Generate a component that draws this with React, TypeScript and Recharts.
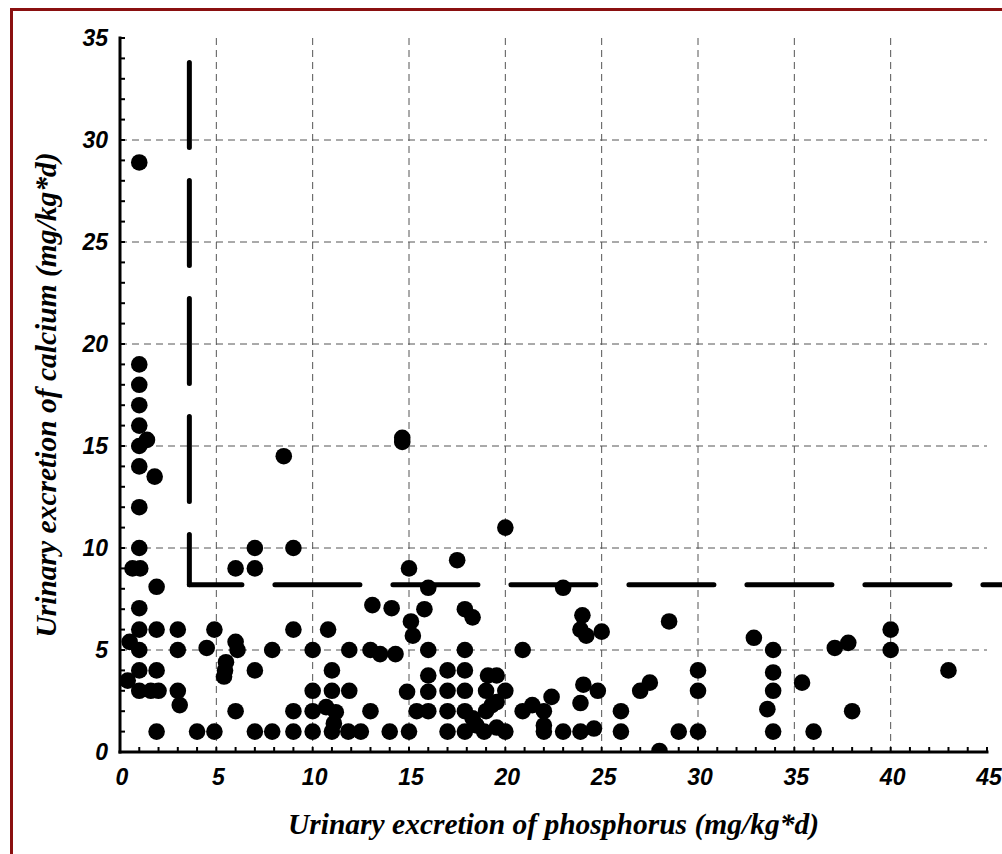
import React from 'react';
import {
  ScatterChart,
  Scatter,
  XAxis,
  YAxis,
  CartesianGrid,
  ReferenceLine,
} from 'recharts';

// Urinary excretion per subject: phosphorus (x) and calcium (y), mg/kg*d
const phosphorus: number[] = [
  1, 1, 1, 1, 1, 1.4, 1, 1, 1.8, 1, 1, 0.65, 1.05, 1.9, 1, 1, 1.9, 3, 4.9, 0.5,
  1, 3, 4.5, 1, 1.9, 0.4, 1, 1.6, 2, 3, 3.1, 1.9, 4, 4.9,
  8.5, 7, 9, 6, 7, 9, 6, 6.1, 7.9, 5.5, 5.45, 5.4, 7, 6, 9, 7, 7.9, 9,
  10.8, 10, 11.9, 13, 13.5, 14.3, 11, 10, 11, 11.9, 10, 10.7, 11.2, 11.1, 13, 10, 11, 11.85, 12.5, 14, 13.1, 14.1,
  14.65, 14.65, 15, 17.5, 16, 15.8, 17.9, 18.3, 15.1, 15.2, 16, 17.9, 14.9, 16, 16, 17, 17.9, 17, 17.9,
  15.4, 16, 17, 17.9, 18.3, 19.1, 19.55, 19, 20, 19.55, 19, 19.3, 15, 17, 17.9, 18.9, 19.55, 20, 18.5,
  20, 20.9, 20.9, 21.4, 22, 22, 22, 22.4, 23, 23, 24, 23.9, 24.2, 25, 24.05, 24.8, 23.9, 23.9, 24.6,
  26, 26, 27, 27.5, 28, 28.5, 29, 30, 30, 30,
  32.9, 33.9, 33.9, 33.9, 33.6, 33.9, 35.4, 36, 37.1, 37.8, 38, 40, 40, 43,
];

const calcium: number[] = [
  28.9, 19, 18, 17, 16, 15.3, 15, 14, 13.5, 12, 10, 9, 9, 8.1, 7.05, 6, 6, 6, 6, 5.4,
  5, 5, 5.1, 4, 4, 3.5, 3, 3, 3, 3, 2.3, 1, 1, 1,
  14.5, 10, 10, 9, 9, 6, 5.4, 5, 5, 4.4, 4, 3.7, 4, 2, 2, 1, 1, 1,
  6, 5, 5, 5, 4.8, 4.8, 4, 3, 3, 3, 2, 2.2, 1.95, 1.4, 2, 1, 1, 1, 1, 1, 7.2, 7.05,
  15.2, 15.4, 9, 9.4, 8.05, 7, 7, 6.6, 6.4, 5.7, 5, 5, 2.95, 3.75, 2.95, 4, 4, 3, 3,
  2, 2, 2, 2, 1.65, 3.75, 3.75, 3, 3, 2.45, 2, 2.3, 1, 1, 1, 1, 1.2, 1, 1.3,
  11, 5, 2, 2.3, 2, 1.3, 1, 2.7, 8.05, 1, 6.7, 6, 5.7, 5.9, 3.3, 3, 2.4, 1, 1.15,
  2, 1, 3, 3.4, 0.05, 6.4, 1, 4, 3, 1,
  5.6, 5, 3.9, 3, 2.1, 1, 3.4, 1, 5.1, 5.35, 2, 6, 5, 4,
];

const points = phosphorus.map((p, i) => ({ p, ca: calcium[i] }));

// Axis ranges and tick values
const phosphorusDomain: [number, number] = [0, 45];
const calciumDomain: [number, number] = [0, 35];
const phosphorusTicks = Array.from({ length: 46 }, (_, i) => i);
const calciumTicks = Array.from({ length: 36 }, (_, i) => i);
const phosphorusGrid = [5, 10, 15, 20, 25, 30, 35, 40];
const calciumGrid = [5, 10, 15, 20, 25, 30];

// Cut-off lines (phosphorus and calcium thresholds)
const phosphorusCutoff = 3.6;
const calciumCutoff = 8.2;
const verticalTop = 33.8;
const horizontalEnd = 49.2;

const xTitle = 'Urinary excretion of phosphorus (mg/kg*d)';
const yTitle = 'Urinary excretion of calcium (mg/kg*d)';

const tickFont: React.CSSProperties = {
  fontFamily: '"Liberation Sans", Arial, sans-serif',
  fontWeight: 'bold',
  fontStyle: 'italic',
  fontSize: 23,
};

const titleFont: React.CSSProperties = {
  fontFamily: '"Liberation Serif", "Times New Roman", serif',
  fontWeight: 'bold',
  fontStyle: 'italic',
  fontSize: 29.5,
};

const TICK_LEN = 5;

const BottomTick = (props: any) => {
  const { x, y, payload } = props;
  const v = payload.value as number;
  return (
    <g>
      <line x1={x} y1={y} x2={x} y2={y - TICK_LEN} stroke="#000" strokeWidth={2} />
      {v % 5 === 0 && (
        <text x={x + 2} y={y + 33} textAnchor="middle" fill="#000" style={tickFont}>
          {v}
        </text>
      )}
    </g>
  );
};

const LeftTick = (props: any) => {
  const { x, y, payload } = props;
  const v = payload.value as number;
  return (
    <g>
      <line x1={x} y1={y} x2={x + TICK_LEN} y2={y} stroke="#000" strokeWidth={2} />
      {v % 5 === 0 && (
        <text x={x - 12} y={y + 8} textAnchor="end" fill="#000" style={tickFont}>
          {v}
        </text>
      )}
    </g>
  );
};

const TopTick = (props: any) => {
  const { x, y } = props;
  return <line x1={x} y1={y} x2={x} y2={y + TICK_LEN} stroke="#000" strokeWidth={2} />;
};

const RightTick = (props: any) => {
  const { x, y } = props;
  return <line x1={x} y1={y} x2={x - TICK_LEN} y2={y} stroke="#000" strokeWidth={2} />;
};

const XTitle = (props: any) => {
  const vb = props.viewBox || {};
  return (
    <text x={vb.x + vb.width / 2} y={vb.y + 82} textAnchor="middle" fill="#000" style={titleFont}>
      {xTitle}
    </text>
  );
};

const YTitle = (props: any) => {
  const vb = props.viewBox || {};
  const cx = 56;
  const cy = vb.y + vb.height / 2;
  return (
    <text
      x={0}
      y={0}
      transform={`translate(${cx},${cy}) rotate(-90)`}
      textAnchor="middle"
      fill="#000"
      style={titleFont}
    >
      {yTitle}
    </text>
  );
};

const Dot = (props: any) => {
  const { cx, cy } = props;
  return <circle cx={cx} cy={cy} r={8.3} fill="#000" />;
};

const axisLine = { stroke: '#000', strokeWidth: 3, strokeLinecap: 'square' as const };

export default function App() {
  return (
    <div style={{ position: 'relative', width: 1002, height: 854, overflow: 'hidden', background: '#fff' }}>
      <style>{`html,body{margin:0;padding:0;overflow:hidden;background:#fff}`}</style>
      <div
        style={{
          position: 'absolute',
          left: 10,
          top: 8,
          width: 1100,
          height: 1000,
          border: '3px solid #8a1010',
          boxSizing: 'border-box',
        }}
      />
      <div style={{ position: 'absolute', left: 0, top: 0 }}>
        <ScatterChart width={1002} height={854} margin={{ top: 38, right: 15, bottom: 0, left: 0 }}>
          <CartesianGrid
            stroke="#555"
            strokeWidth={1}
            strokeDasharray="7 5"
            horizontalValues={calciumGrid}
            verticalValues={phosphorusGrid}
          />
          <XAxis
            dataKey="p"
            type="number"
            domain={phosphorusDomain}
            allowDataOverflow
            ticks={phosphorusTicks}
            interval={0}
            height={102}
            tickSize={0}
            tickMargin={0}
            tickLine={false}
            axisLine={axisLine}
            tick={BottomTick}
            label={XTitle}
          />
          <XAxis
            xAxisId="top"
            orientation="top"
            type="number"
            domain={phosphorusDomain}
            allowDataOverflow
            ticks={phosphorusTicks}
            interval={0}
            height={0}
            tickSize={0}
            tickMargin={0}
            tickLine={false}
            axisLine={axisLine}
            tick={TopTick}
          />
          <YAxis
            dataKey="ca"
            type="number"
            domain={calciumDomain}
            allowDataOverflow
            ticks={calciumTicks}
            interval={0}
            width={120}
            tickSize={0}
            tickMargin={0}
            tickLine={false}
            axisLine={axisLine}
            tick={LeftTick}
            label={YTitle}
          />
          <YAxis
            yAxisId="right"
            orientation="right"
            type="number"
            domain={calciumDomain}
            allowDataOverflow
            ticks={calciumTicks}
            interval={0}
            width={0}
            tickSize={0}
            tickMargin={0}
            tickLine={false}
            axisLine={axisLine}
            tick={RightTick}
          />
          <ReferenceLine
            segment={[
              { x: phosphorusCutoff, y: verticalTop },
              { x: phosphorusCutoff, y: calciumCutoff },
            ]}
            stroke="#000"
            strokeWidth={5}
            strokeDasharray="85 33"
            strokeLinecap="round"
            ifOverflow="visible"
          />
          <ReferenceLine
            segment={[
              { x: horizontalEnd, y: calciumCutoff },
              { x: phosphorusCutoff, y: calciumCutoff },
            ]}
            stroke="#000"
            strokeWidth={5}
            strokeDasharray="85 33"
            strokeLinecap="round"
            ifOverflow="visible"
          />
          <Scatter data={points} fill="#000" shape={Dot} isAnimationActive={false} />
        </ScatterChart>
      </div>
    </div>
  );
}
